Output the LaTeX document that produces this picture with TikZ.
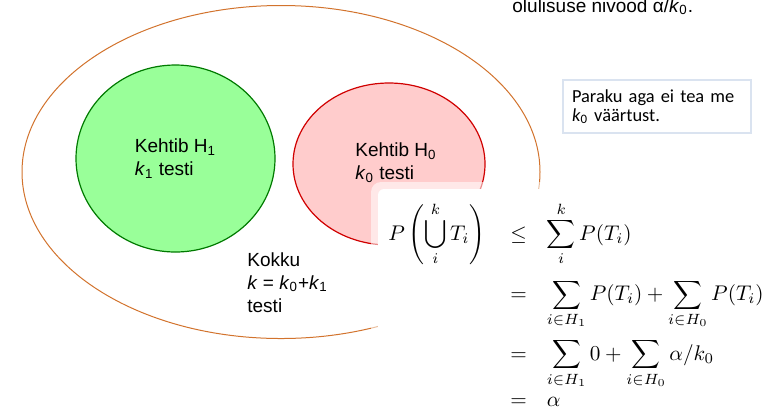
\documentclass[tikz,border=0pt]{standalone}
\usepackage{fix-cm}
\usepackage[no-math]{fontspec}
\setmainfont{Liberation Sans}
\newfontfamily\calibrifont{Carlito}
\usetikzlibrary{positioning, shapes.geometric}
\definecolor{outerOrange}{HTML}{D2732D}
\definecolor{hOneGreen}{HTML}{99FF99}
\definecolor{hOneDark}{HTML}{007A00}
\definecolor{hZeroRed}{HTML}{FFCCCC}
\definecolor{hZeroDark}{HTML}{D00000}
\definecolor{noteBlue}{HTML}{DAE3F0}

\begin{document}
\begin{tikzpicture}[x=0.5pt, y=-0.5pt, font=\fontsize{9.5}{11.5}\selectfont,
    hset/.style={ellipse, line width=0.6pt, inner sep=0pt, align=left},
    note/.style={draw=noteBlue, line width=0.6pt, fill=white, align=left,
      font=\calibrifont\fontsize{9.2}{9.8}\selectfont, text width=85pt,
      inner xsep=4.5pt, minimum height=26.5pt}]
    \useasboundingbox (0,0) rectangle (781,409);

    \node[anchor=base west, inner sep=0pt] (level) at (512,12)
      {olulisuse nivood α/\textit{k}\textsubscript{0}.};

    \draw[outerOrange, line width=0.5pt] (281,172) ellipse [x radius=259, y radius=166.5];
    \node[hset, fill=hOneGreen, draw=hOneDark, minimum width=99.5pt, minimum height=93.5pt] (hone)
      at (175.5,158.5) {Kehtib H\textsubscript{1}\\\textit{k}\textsubscript{1} testi};
    \node[hset, fill=hZeroRed, draw=hZeroDark, minimum width=96pt, minimum height=81pt,
      label={[align=left, xshift=3.5pt, yshift=0.5pt]center:{Kehtib H\textsubscript{0}\\\textit{k}\textsubscript{0} testi}}] (hzero)
      at (389,164) {};
    \node[anchor=north west, align=left, inner sep=0pt] (total) at (247,252)
      {Kokku\\\textit{k} = \textit{k}\textsubscript{0}+\textit{k}\textsubscript{1}\\testi};

    \node[note] (unknown) at (657,106.5)
      {Paraku aga ei tea me\\\textit{k}\textsubscript{0} väärtust.};

    \fill[white, opacity=0.55, rounded corners=5pt] (371,182) rectangle (800,430);
    \fill[white, rounded corners=3pt] (378,189) rectangle (800,430);
    \node[anchor=base west, inner sep=0pt, font=\fontsize{10.6}{12.8}\selectfont] (bound) at (388,240)
      {$\begin{array}[t]{@{}r@{\hspace{12.5pt}}c@{\hspace{10pt}}l@{}}
        \displaystyle P\left(\bigcup_i^k T_i\right) & \le & \displaystyle\sum_i^k P(T_i)\\[15.8pt]
        & = & \displaystyle\sum_{i\in H_1} P(T_i)+\sum_{i\in H_0} P(T_i)\\[15.3pt]
        & = & \displaystyle\sum_{i\in H_1} 0+\sum_{i\in H_0} \alpha/k_0\\[1.2pt]
        & = & \alpha
      \end{array}$};
  \end{tikzpicture}
\end{document}
